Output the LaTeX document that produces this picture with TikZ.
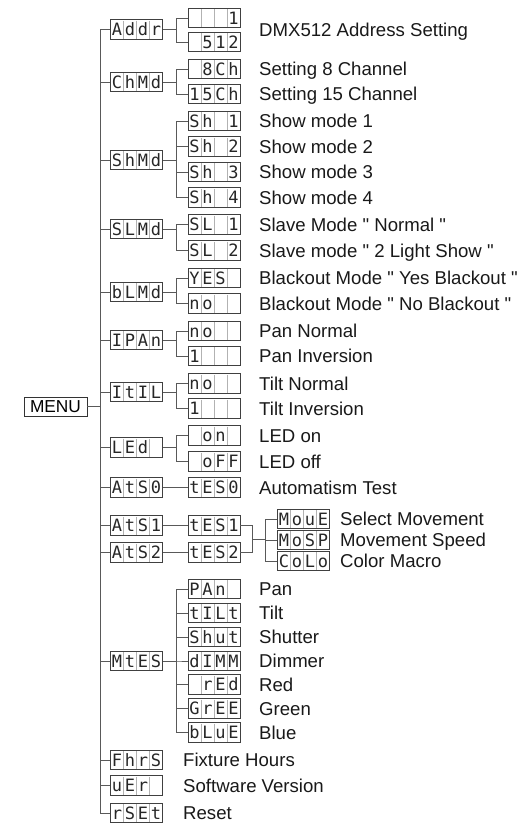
\documentclass[tikz,border=0pt]{standalone}
\usepackage{fontspec}
\setmainfont{Liberation Sans}[Ligatures=TeXOff]
\newfontfamily\segfont{DejaVu Sans Mono}
\tikzset{
  disp/.style={draw=black!75, line width=0.8pt, minimum width=52pt, minimum height=19.5pt, inner sep=0pt},
  cellsep/.style={draw=black!30, line width=0.5pt},
  dch/.style={inner sep=0pt, text height=12.4pt, text depth=0pt, font=\segfont\fontsize{17}{17}\selectfont, text=black!85},
  conn/.style={draw=black!65, line width=0.8pt},
  lbl/.style={anchor=west, inner sep=0pt, text height=13.3pt, text depth=0pt, font=\fontsize{18.6}{18.6}\selectfont, text=black!90},
  menubox/.style={draw=black!80, line width=0.8pt, minimum width=63pt, minimum height=19pt, inner sep=0pt, font=\fontsize{17.3}{17.3}\selectfont}
}
\newcommand\dsp[7]{%
  \node[disp] (#1) at (#2,#3) {};
  \draw[cellsep] (#2-13,#3-9) -- (#2-13,#3+9);
  \draw[cellsep] (#2,#3-9) -- (#2,#3+9);
  \draw[cellsep] (#2+13,#3-9) -- (#2+13,#3+9);
  \node[dch] (#1-a) at (#2-19.5,#3) {#4};
  \node[dch] (#1-b) at (#2-6.5,#3) {#5};
  \node[dch] (#1-c) at (#2+6.5,#3) {#6};
  \node[dch] (#1-d) at (#2+19.5,#3) {#7};
}
\begin{document}
\begin{tikzpicture}[x=1pt,y=-1pt]
\useasboundingbox (0,0) rectangle (525,825);
% menu
\node[menubox] (MENU) at (55.5,406.5) {MENU};
% level 1
\def\xa{136.5}
\def\xb{214}
\dsp{Addr}{\xa}{29.5}{A}{d}{d}{r}
\dsp{ChMd}{\xa}{82}{C}{h}{M}{d}
\dsp{ShMd}{\xa}{160}{S}{h}{M}{d}
\dsp{SLMd}{\xa}{229}{S}{L}{M}{d}
\dsp{bLMd}{\xa}{292}{b}{L}{M}{d}
\dsp{IPAn}{\xa}{340}{I}{P}{A}{n}
\dsp{ItIL}{\xa}{392}{I}{t}{I}{L}
\dsp{LEd}{\xa}{447.5}{L}{E}{d}{}
\dsp{AtSO}{\xa}{487.5}{A}{t}{S}{0}
\dsp{AtSA}{\xa}{525.5}{A}{t}{S}{1}
\dsp{AtSB}{\xa}{552.5}{A}{t}{S}{2}
\dsp{MtES}{\xa}{661}{M}{t}{E}{S}
\dsp{FhrS}{\xa}{760}{F}{h}{r}{S}
\dsp{uEr}{\xa}{785.5}{u}{E}{r}{}
\dsp{rSEt}{\xa}{813}{r}{S}{E}{t}
% level 2
\dsp{vA}{\xb}{18}{}{}{}{1}
\dsp{vB}{\xb}{42}{}{5}{1}{2}
\dsp{vC}{\xb}{69}{}{8}{C}{h}
\dsp{vD}{\xb}{94}{1}{5}{C}{h}
\dsp{vE}{\xb}{121}{S}{h}{}{1}
\dsp{vF}{\xb}{146.5}{S}{h}{}{2}
\dsp{vG}{\xb}{172}{S}{h}{}{3}
\dsp{vH}{\xb}{197.5}{S}{h}{}{4}
\dsp{vI}{\xb}{224.5}{S}{L}{}{1}
\dsp{vJ}{\xb}{250.5}{S}{L}{}{2}
\dsp{vK}{\xb}{278}{Y}{E}{S}{}
\dsp{vL}{\xb}{303.5}{n}{o}{}{}
\dsp{vM}{\xb}{331}{n}{o}{}{}
\dsp{vN}{\xb}{356}{1}{}{}{}
\dsp{vO}{\xb}{383.5}{n}{o}{}{}
\dsp{vP}{\xb}{408.5}{1}{}{}{}
\dsp{vQ}{\xb}{435.5}{}{o}{n}{}
\dsp{vR}{\xb}{461.5}{}{o}{F}{F}
\dsp{tESO}{\xb}{487.5}{t}{E}{S}{0}
\dsp{tESA}{\xb}{525.5}{t}{E}{S}{1}
\dsp{tESB}{\xb}{552.5}{t}{E}{S}{2}
\dsp{wA}{\xb}{589}{P}{A}{n}{}
\dsp{wB}{\xb}{613}{t}{I}{L}{t}
\dsp{wC}{\xb}{637}{S}{h}{u}{t}
\dsp{wD}{\xb}{661}{d}{I}{M}{M}
\dsp{wE}{\xb}{684.5}{}{r}{E}{d}
\dsp{wF}{\xb}{708.5}{G}{r}{E}{E}
\dsp{wG}{\xb}{732.5}{b}{L}{u}{E}
% level 3
\dsp{MovE}{303.5}{519}{M}{o}{u}{E}
\dsp{MoSP}{303.5}{540}{M}{o}{S}{P}
\dsp{CoLo}{303.5}{561}{C}{o}{L}{o}
% trunk
\coordinate (T) at (100,0);
\draw[conn] (T |- Addr.west) -- (T |- rSEt.west);
\draw[conn] (MENU.east) -- (T |- MENU.east);
\foreach \n in {Addr,ChMd,ShMd,SLMd,bLMd,IPAn,ItIL,LEd,AtSO,AtSA,AtSB,MtES,FhrS,uEr,rSEt}
  \draw[conn] (T |- \n.west) -- (\n.west);
% brackets
\foreach \p/\c in {Addr/vA,Addr/vB,ChMd/vC,ChMd/vD,ShMd/vE,ShMd/vF,ShMd/vG,ShMd/vH,SLMd/vI,SLMd/vJ,bLMd/vK,bLMd/vL,IPAn/vM,IPAn/vN,ItIL/vO,ItIL/vP,LEd/vQ,LEd/vR,MtES/wA,MtES/wB,MtES/wC,MtES/wD,MtES/wE,MtES/wF,MtES/wG}
  \draw[conn] (\p.east) -- ++(13,0) |- (\c.west);
\draw[conn] (AtSO.east) -- (tESO.west);
\draw[conn] (AtSA.east) -- (tESA.west);
\draw[conn] (AtSB.east) -- (tESB.west);
\coordinate (mv) at (252,539);
\draw[conn] (tESA.east) -| (mv);
\draw[conn] (tESB.east) -| (mv);
\foreach \c in {MovE,MoSP,CoLo}
  \draw[conn] (mv) -- ++(13,0) |- (\c.west);
% labels
\node[lbl] (l1) at (259,30) {DMX512 Address Setting};
\node[lbl] (l2) at (259,69) {Setting 8 Channel};
\node[lbl] (l3) at (259,94) {Setting 15 Channel};
\node[lbl] (l4) at (259,121) {Show mode 1};
\node[lbl] (l5) at (259,146.5) {Show mode 2};
\node[lbl] (l6) at (259,172) {Show mode 3};
\node[lbl] (l7) at (259,197.5) {Show mode 4};
\node[lbl] (l8) at (259,224.5) {Slave Mode " Normal "};
\node[lbl] (l9) at (259,250.5) {Slave mode " 2 Light Show "};
\node[lbl] (l10) at (259,278) {Blackout Mode " Yes Blackout "};
\node[lbl] (l11) at (259,303.5) {Blackout Mode " No Blackout "};
\node[lbl] (l12) at (259,331) {Pan Normal};
\node[lbl] (l13) at (259,356) {Pan Inversion};
\node[lbl] (l14) at (259,383.5) {Tilt Normal};
\node[lbl] (l15) at (259,408.5) {Tilt Inversion};
\node[lbl] (l16) at (259,435.5) {LED on};
\node[lbl] (l17) at (259,461.5) {LED off};
\node[lbl] (l18) at (259,487.5) {Automatism Test};
\node[lbl] (l19) at (340,519) {Select Movement};
\node[lbl] (l20) at (340,540) {Movement Speed};
\node[lbl] (l21) at (340,561) {Color Macro};
\node[lbl] (l22) at (259,589) {Pan};
\node[lbl] (l23) at (259,613) {Tilt};
\node[lbl] (l24) at (259,637) {Shutter};
\node[lbl] (l25) at (259,661) {Dimmer};
\node[lbl] (l26) at (259,684.5) {Red};
\node[lbl] (l27) at (259,708.5) {Green};
\node[lbl] (l28) at (259,732.5) {Blue};
\node[lbl] (l29) at (183,760) {Fixture Hours};
\node[lbl] (l30) at (183,785.5) {Software Version};
\node[lbl] (l31) at (183,813) {Reset};
\end{tikzpicture}
\end{document}
